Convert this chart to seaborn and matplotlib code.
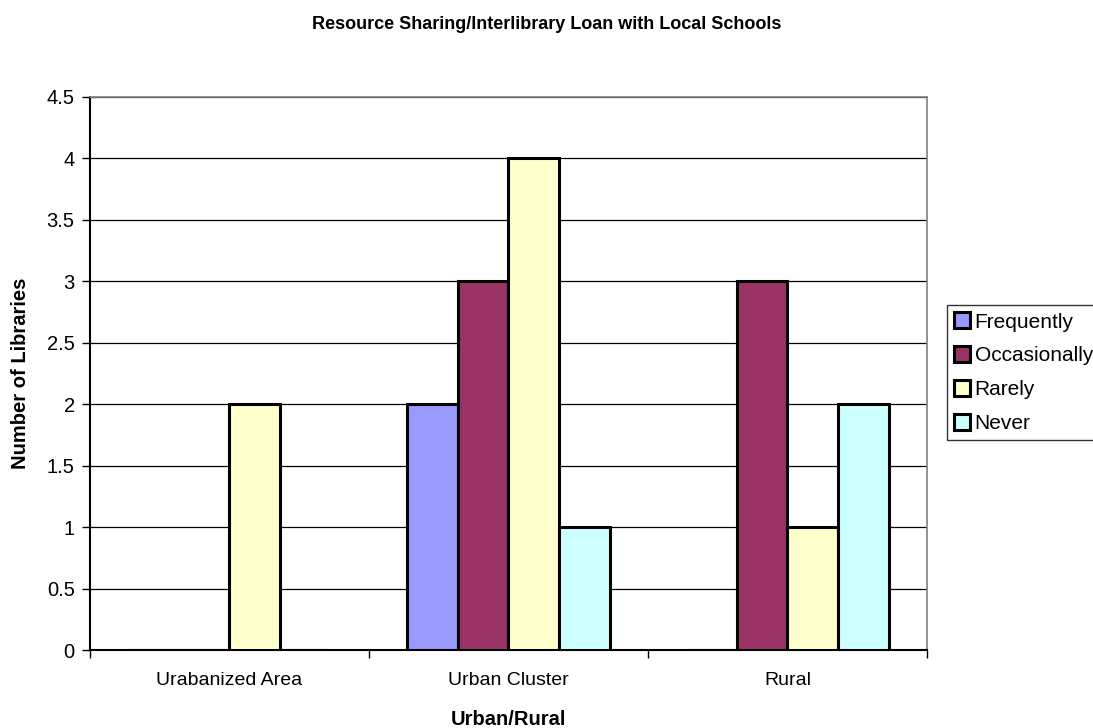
import pandas as pd
import matplotlib.pyplot as plt
import seaborn as sns
from matplotlib.ticker import FixedLocator, MultipleLocator

# data
areas = ["Urabanized Area", "Urban Cluster", "Rural"]
frequency = ["Frequently", "Occasionally", "Rarely", "Never"]
frequently = [0, 2, 0]
occasionally = [0, 3, 3]
rarely = [2, 4, 1]
never = [0, 1, 2]
colors = ["#9999FF", "#993366", "#FFFFCC", "#CCFFFF"]

df = pd.DataFrame({
    "Area": areas * 4,
    "Frequency": [f for f in frequency for _ in areas],
    "Count": frequently + occasionally + rarely + never,
})

sns.set_style("white")
plt.rcParams["font.family"] = ["Liberation Sans", "DejaVu Sans"]
plt.rcParams.update({
    "text.color": "black",
    "axes.labelcolor": "black",
    "xtick.color": "black",
    "ytick.color": "black",
})

fig = plt.figure(figsize=(10.93, 7.28), dpi=100)
ax = fig.add_axes([0.0823, 0.107, 0.7658, 0.76])

sns.barplot(
    data=df, x="Area", y="Count", hue="Frequency",
    order=areas, hue_order=frequency, palette=colors,
    width=0.73, gap=0, edgecolor="black", linewidth=2.2,
    saturation=1, ax=ax, zorder=3
)

ax.set_ylim(0, 4.5)
ax.set_xlim(-0.5, 2.5)
ax.yaxis.set_major_locator(MultipleLocator(0.5))
ax.set_yticklabels([f"{v:g}" for v in ax.get_yticks()])
ax.grid(axis="y", color="black", linewidth=0.9, zorder=0)

ax.tick_params(axis="x", which="major", length=0, labelsize=14, pad=16)
ax.xaxis.set_minor_locator(FixedLocator([-0.5, 0.5, 1.5, 2.5]))
ax.tick_params(axis="x", which="minor", length=6, width=1, color="black", direction="out", bottom=True)
ax.tick_params(axis="y", length=6, width=1, color="black", direction="out", left=True, labelsize=14.5, pad=5)

for side in ["left", "bottom"]:
    ax.spines[side].set_color("black")
    ax.spines[side].set_linewidth(1.5)
for side in ["top", "right"]:
    ax.spines[side].set_color("#808080")
    ax.spines[side].set_linewidth(1.2)

ax.set_xlabel("Urban/Rural", fontsize=14.5, fontweight="bold", labelpad=15)
ax.set_ylabel("Number of Libraries", fontsize=14.5, fontweight="bold", labelpad=12)
fig.suptitle("Resource Sharing/Interlibrary Loan with Local Schools",
             fontsize=13, fontweight="bold", x=0.5, y=0.978)

ax.legend(
    loc="upper left", bbox_to_anchor=(0.866, 0.581), bbox_transform=fig.transFigure,
    frameon=True, fancybox=False, edgecolor="black", fontsize=15,
    handlelength=0.8, handleheight=0.8, handletextpad=0.2,
    labelspacing=0.7, borderpad=0.35, borderaxespad=0,
)
ax.get_legend().get_frame().set_linewidth(1)

fig.savefig("out.png", dpi=100, facecolor="white")
